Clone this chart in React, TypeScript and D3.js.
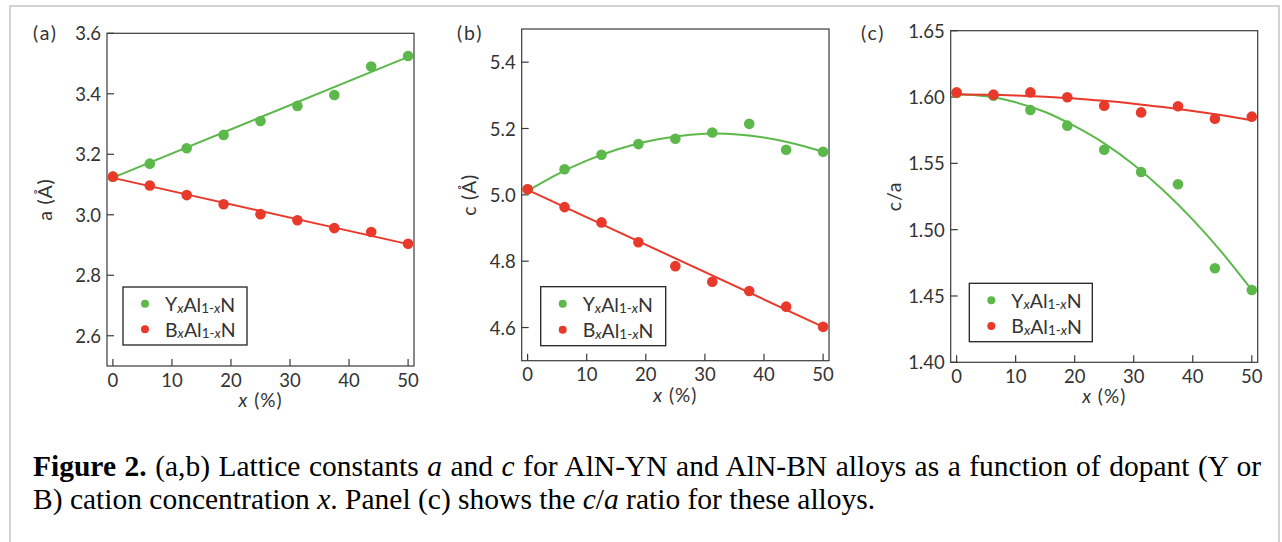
import React, { useLayoutEffect, useRef, useState } from 'react';
import * as d3 from 'd3';

// ---------- data ----------
const xPct = [0, 6.25, 12.5, 18.75, 25, 31.25, 37.5, 43.75, 50];

// (a) lattice constant a (Å)
const aYAlN = [3.126, 3.169, 3.220, 3.264, 3.310, 3.360, 3.396, 3.490, 3.525];
const aBAlN = [3.126, 3.097, 3.065, 3.035, 3.002, 2.982, 2.956, 2.943, 2.904];
// (b) lattice constant c (Å)
const cYAlN = [5.017, 5.077, 5.121, 5.153, 5.169, 5.188, 5.214, 5.136, 5.130];
const cBAlN = [5.017, 4.963, 4.917, 4.857, 4.785, 4.738, 4.710, 4.663, 4.602];
// (c) c/a ratio
const caYAlN = [1.6030, 1.6010, 1.5902, 1.5784, 1.5603, 1.5435, 1.5342, 1.4709, 1.4545];
const caBAlN = [1.6035, 1.6018, 1.6035, 1.5998, 1.5935, 1.5884, 1.5930, 1.5837, 1.5852];

// fit curves
const fitXLin = [0, 50];
const fitXCurve = [0, 5, 10, 15, 20, 25, 30, 35, 40, 45, 50];
const aYFit = [3.123, 3.522];
const aBFit = [3.122, 2.903];
const cYFit = [5.012, 5.062, 5.103, 5.136, 5.160, 5.176, 5.184, 5.183, 5.173, 5.155, 5.130];
const cBFit = [5.015, 4.602];
const caYFit = [1.602, 1.6005, 1.596, 1.5887, 1.578, 1.5651, 1.549, 1.5297, 1.5076, 1.4825, 1.4545];
const caBFit = [1.602, 1.6018, 1.6012, 1.6002, 1.5989, 1.5971, 1.595, 1.5924, 1.5895, 1.5862, 1.5825];

// ticks
const xTicks = [0, 10, 20, 30, 40, 50];
const aTicks = [2.6, 2.8, 3.0, 3.2, 3.4, 3.6];
const cTicks = [4.6, 4.8, 5.0, 5.2, 5.4];
const caTicks = [1.40, 1.45, 1.50, 1.55, 1.60, 1.65];

const captionLine1Rest = [
  { t: ' (a,b) Lattice constants ' },
  { t: 'a', i: true },
  { t: ' and ' },
  { t: 'c', i: true },
  { t: ' for AlN-YN and AlN-BN alloys as a function of dopant (Y or' },
];

// ---------- styles ----------
const GREEN = '#5cb84a';
const RED = '#e8392b';
const SANS = "Lato, 'Open Sans', 'DejaVu Sans', sans-serif";
const SERIF = "'Liberation Serif', 'Times New Roman', serif";
const TXT = '#333';
const FS = 18.5;

type PanelProps = {
  box: { l: number; t: number; r: number; b: number };
  yDomain: [number, number];
  yTicks: number[];
  yFmt: (v: number) => string;
  yData: number[];
  bData: number[];
  yFitX: number[];
  yFit: number[];
  bFitX: number[];
  bFit: number[];
  tag: string;
  tagX: number;
  yLabel: React.ReactNode;
  yLabelX: number;
  legend: { x: number; y: number; w: number; h: number };
};

function LegendLabel({ el, x, y }: { el: string; x: number; y: number }) {
  return (
    <text x={x} y={y} fontFamily={SANS} fontSize={19.5} fill={TXT} dominantBaseline="central">
      {el}
      <tspan fontSize={13.5} fontStyle="italic" dy={4}>x</tspan>
      <tspan dy={-4}>Al</tspan>
      <tspan fontSize={13.5} dy={4}>1-</tspan>
      <tspan fontSize={13.5} fontStyle="italic">x</tspan>
      <tspan dy={-4}>N</tspan>
    </text>
  );
}

function Panel(p: PanelProps) {
  const { box } = p;
  const xs = d3.scaleLinear().domain([-1, 51]).range([box.l, box.r]);
  const ys = d3.scaleLinear().domain(p.yDomain).range([box.b, box.t]);
  const lineLin = d3.line<[number, number]>().x(d => xs(d[0])).y(d => ys(d[1]));
  const lineCurve = d3
    .line<[number, number]>()
    .x(d => xs(d[0]))
    .y(d => ys(d[1]))
    .curve(d3.curveNatural);
  const mk = (xx: number[], yy: number[]) => xx.map((v, i) => [v, yy[i]] as [number, number]);
  const yFitPath = (p.yFitX.length > 2 ? lineCurve : lineLin)(mk(p.yFitX, p.yFit)) || '';
  const bFitPath = (p.bFitX.length > 2 ? lineCurve : lineLin)(mk(p.bFitX, p.bFit)) || '';
  const tickLen = 7;
  const lg = p.legend;
  return (
    <g>
      {/* box */}
      <rect x={box.l} y={box.t} width={box.r - box.l} height={box.b - box.t} fill="none" stroke="#3a3a3a" strokeWidth={1.2} />
      {/* y ticks */}
      {p.yTicks.map(t => (
        <g key={'y' + t}>
          <line x1={box.l} x2={box.l + tickLen} y1={ys(t)} y2={ys(t)} stroke="#3a3a3a" strokeWidth={1.2} />
          <text x={box.l - 6} y={ys(t)} textAnchor="end" dominantBaseline="central" fontFamily={SANS} fontSize={FS} fill={TXT}>
            {p.yFmt(t)}
          </text>
        </g>
      ))}
      {/* x ticks */}
      {xTicks.map(t => (
        <g key={'x' + t}>
          <line x1={xs(t)} x2={xs(t)} y1={box.b} y2={box.b - tickLen} stroke="#3a3a3a" strokeWidth={1.2} />
          <text x={xs(t)} y={box.b + 20.5} textAnchor="middle" fontFamily={SANS} fontSize={FS} fill={TXT}>
            {t}
          </text>
        </g>
      ))}
      {/* x label */}
      <text x={(box.l + box.r) / 2} y={box.b + 41} textAnchor="middle" fontFamily={SANS} fontSize={19} fill={TXT} letterSpacing={1}>
        <tspan fontStyle="italic">x</tspan> (%)
      </text>
      {/* y label */}
      <text
        transform={`translate(${p.yLabelX},${(box.t + box.b) / 2}) rotate(-90)`}
        textAnchor="middle"
        fontFamily={SANS}
        fontSize={19.5}
        fill={TXT}
        letterSpacing={0.8}
      >
        {p.yLabel}
      </text>
      {/* panel tag */}
      <text x={p.tagX} y={40} fontFamily={SANS} fontSize={19.5} fill={TXT} letterSpacing={1.8}>
        {p.tag}
      </text>
      {/* series */}
      <path d={yFitPath} fill="none" stroke={GREEN} strokeWidth={2} />
      {xPct.map((x, i) => (
        <circle key={'g' + i} cx={xs(x)} cy={ys(p.yData[i])} r={5.3} fill={GREEN} />
      ))}
      <path d={bFitPath} fill="none" stroke={RED} strokeWidth={2} />
      {xPct.map((x, i) => (
        <circle key={'r' + i} cx={xs(x)} cy={ys(p.bData[i])} r={5.3} fill={RED} />
      ))}
      {/* legend */}
      <rect x={lg.x} y={lg.y} width={lg.w} height={lg.h} fill="white" stroke="#222" strokeWidth={1.3} />
      <circle cx={lg.x + 22} cy={lg.y + lg.h * 0.29} r={4} fill={GREEN} />
      <circle cx={lg.x + 22} cy={lg.y + lg.h * 0.73} r={4} fill={RED} />
      <LegendLabel el="Y" x={lg.x + 42} y={lg.y + lg.h * 0.29} />
      <LegendLabel el="B" x={lg.x + 42} y={lg.y + lg.h * 0.73} />
    </g>
  );
}

function Caption() {
  const ref = useRef<SVGTextElement>(null);
  const [ws, setWs] = useState(0);
  const x0 = 33;
  const x1 = 1261;
  useLayoutEffect(() => {
    if (!ref.current) return;
    const len = ref.current.getComputedTextLength();
    const full = ref.current.textContent || '';
    const spaces = (full.match(/ /g) || []).length;
    if (spaces > 0) setWs(Math.max(0, (x1 - x0 - len) / spaces));
  }, []);
  return (
    <g fontFamily={SERIF} fontSize={29.5} fill="#000">
      <text ref={ref} x={x0} y={476} style={{ wordSpacing: ws }}>
        <tspan fontWeight="bold">Figure 2.</tspan>
        {captionLine1Rest.map((s, i) => (
          <tspan key={i} fontStyle={s.i ? 'italic' : 'normal'}>
            {s.t}
          </tspan>
        ))}
      </text>
      <text x={x0} y={509}>
        B) cation concentration <tspan fontStyle="italic">x</tspan>. Panel (c) shows the{' '}
        <tspan fontStyle="italic">c</tspan>/<tspan fontStyle="italic">a</tspan> ratio for these alloys.
      </text>
    </g>
  );
}

export default function App() {
  return (
    <svg
      width={1282}
      height={542}
      style={{ position: 'absolute', left: 0, top: 0, background: 'white' }}
    >
      <rect x={0} y={0} width={1282} height={542} fill="white" />
      <rect x={10} y={6} width={1269} height={560} fill="none" stroke="#d2d2d2" strokeWidth={2} />
      <Panel
        box={{ l: 107, t: 33.3, r: 414, b: 366 }}
        yDomain={[2.5, 3.6]}
        yTicks={aTicks}
        yFmt={d3.format('.1f')}
        yData={aYAlN}
        bData={aBAlN}
        yFitX={fitXLin}
        yFit={aYFit}
        bFitX={fitXLin}
        bFit={aBFit}
        tag="(a)"
        tagX={33}
        yLabel={<>a (Å)</>}
        yLabelX={52}
        legend={{ x: 123, y: 287, w: 124, h: 58 }}
      />
      <Panel
        box={{ l: 521.7, t: 29, r: 829, b: 360.7 }}
        yDomain={[4.5, 5.5]}
        yTicks={cTicks}
        yFmt={d3.format('.1f')}
        yData={cYAlN}
        bData={cBAlN}
        yFitX={fitXCurve}
        yFit={cYFit}
        bFitX={fitXLin}
        bFit={cBFit}
        tag="(b)"
        tagX={457}
        yLabel={<>c (Å)</>}
        yLabelX={476}
        legend={{ x: 540.7, y: 286.7, w: 125, h: 59 }}
      />
      <Panel
        box={{ l: 950.7, t: 30.7, r: 1257.7, b: 362.3 }}
        yDomain={[1.4, 1.65]}
        yTicks={caTicks}
        yFmt={d3.format('.2f')}
        yData={caYAlN}
        bData={caBAlN}
        yFitX={fitXCurve}
        yFit={caYFit}
        bFitX={fitXCurve}
        bFit={caBFit}
        tag="(c)"
        tagX={861}
        yLabel={<>c/a</>}
        yLabelX={901}
        legend={{ x: 969.3, y: 283.3, w: 123, h: 58.4 }}
      />
      <Caption />
    </svg>
  );
}
